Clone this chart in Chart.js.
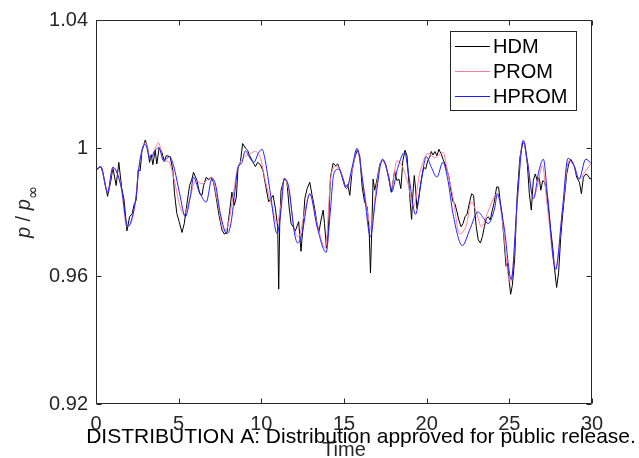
<!DOCTYPE html>
<html>
<head>
<meta charset="utf-8">
<script src="https://cdn.jsdelivr.net/npm/chart.js@4.4.1/dist/chart.umd.min.js"></script>
<style>
html,body{margin:0;padding:0;background:#fff;}
#wrap{width:639px;height:458px;position:relative;}
</style>
</head>
<body>
<div id="wrap"><canvas id="c" width="639" height="458"></canvas></div>
<script>
// ---------- data ----------
const hdmTime = [0.00,0.29,0.41,0.70,0.90,1.02,1.22,1.38,1.56,1.70,1.87,2.03,2.19,2.31,2.43,2.55,2.67,2.78,2.98,3.12,3.24,3.34,3.44,3.58,3.68,3.82,3.99,4.13,4.25,4.49,4.65,4.75,4.89,5.03,5.20,5.34,5.50,5.66,5.80,5.90,6.11,6.27,6.41,6.51,6.67,6.81,6.95,7.11,7.28,7.44,7.62,7.76,7.92,8.08,8.22,8.37,8.49,8.59,8.73,8.87,9.03,9.17,9.29,9.46,9.64,9.78,9.94,10.10,10.26,10.44,10.59,10.71,10.85,10.99,11.05,11.11,11.19,11.27,11.39,11.55,11.68,11.80,11.92,12.05,12.26,12.40,12.52,12.63,12.77,12.93,13.07,13.21,13.37,13.49,13.61,13.74,13.82,13.94,14.06,14.18,14.34,14.50,14.62,14.78,14.95,15.09,15.23,15.35,15.49,15.63,15.79,15.95,16.10,16.24,16.40,16.52,16.60,16.68,16.76,16.86,17.00,17.17,17.33,17.51,17.71,17.87,17.98,18.06,18.20,18.32,18.44,18.56,18.69,18.81,18.93,19.01,19.09,19.17,19.25,19.33,19.41,19.53,19.67,19.82,19.94,20.06,20.18,20.28,20.38,20.50,20.62,20.74,20.88,20.99,21.11,21.23,21.35,21.47,21.59,21.71,21.83,21.95,22.08,22.20,22.32,22.44,22.60,22.72,22.84,22.92,23.00,23.12,23.25,23.37,23.49,23.61,23.73,23.85,23.97,24.07,24.23,24.35,24.45,24.55,24.68,24.80,24.88,24.98,25.08,25.18,25.32,25.48,25.64,25.81,25.93,26.09,26.21,26.33,26.45,26.57,26.69,26.81,26.90,27.02,27.14,27.26,27.38,27.50,27.62,27.74,27.86,27.98,28.11,28.23,28.35,28.47,28.59,28.71,28.83,28.95,29.07,29.24,29.36,29.48,29.64,29.76,29.88,30.00];
const hdmValue = [0.9931,0.9942,0.9924,0.9849,0.9898,0.9938,0.9883,0.9955,0.9873,0.9837,0.9741,0.9785,0.9795,0.9824,0.9837,0.9931,0.9929,0.9991,1.0025,1.0001,0.9955,0.9979,0.9948,0.9993,0.9950,1.0001,0.9986,0.9958,0.9976,0.9973,0.9929,0.9857,0.9795,0.9770,0.9736,0.9764,0.9826,0.9883,0.9903,0.9924,0.9898,0.9857,0.9852,0.9883,0.9909,0.9900,0.9909,0.9893,0.9842,0.9790,0.9744,0.9731,0.9736,0.9801,0.9862,0.9821,0.9847,0.9940,0.9955,1.0014,1.0000,0.9993,0.9976,0.9960,0.9942,0.9955,0.9948,0.9929,0.9883,0.9832,0.9842,0.9852,0.9811,0.9754,0.9559,0.9754,0.9867,0.9883,0.9906,0.9893,0.9816,0.9764,0.9754,0.9740,0.9770,0.9677,0.9754,0.9842,0.9873,0.9893,0.9852,0.9816,0.9764,0.9739,0.9775,0.9806,0.9764,0.9687,0.9754,0.9909,0.9952,0.9945,0.9950,0.9929,0.9903,0.9878,0.9886,0.9852,0.9929,0.9965,0.9993,0.9976,0.9878,0.9832,0.9816,0.9744,0.9610,0.9744,0.9903,0.9868,0.9903,0.9950,0.9963,0.9950,0.9903,0.9862,0.9900,0.9929,0.9898,0.9903,0.9873,0.9960,0.9993,0.9976,0.9888,0.9826,0.9777,0.9857,0.9914,0.9873,0.9811,0.9847,0.9898,0.9940,0.9934,0.9960,0.9971,0.9989,0.9978,0.9989,0.9976,0.9996,0.9981,0.9965,0.9950,0.9931,0.9909,0.9867,0.9832,0.9826,0.9801,0.9775,0.9754,0.9764,0.9785,0.9793,0.9832,0.9857,0.9852,0.9795,0.9754,0.9713,0.9703,0.9723,0.9754,0.9780,0.9785,0.9775,0.9806,0.9826,0.9878,0.9878,0.9830,0.9795,0.9713,0.9631,0.9640,0.9589,0.9543,0.9570,0.9651,0.9857,0.9971,1.0017,1.0012,0.9950,0.9857,0.9806,0.9898,0.9919,0.9898,0.9908,0.9868,0.9898,0.9893,0.9857,0.9806,0.9744,0.9692,0.9620,0.9564,0.9610,0.9723,0.9795,0.9857,0.9919,0.9950,0.9965,0.9955,0.9940,0.9909,0.9893,0.9857,0.9909,0.9919,0.9914,0.9903,0.9908];

const promTime = [0.00,0.29,0.70,1.02,1.26,1.50,1.87,2.11,2.37,2.57,2.98,3.32,3.58,3.78,4.09,4.39,4.69,5.06,5.34,5.70,6.02,6.41,6.81,7.01,7.32,7.72,7.92,8.22,8.53,8.93,9.29,9.60,9.94,10.24,10.65,10.95,11.19,11.39,11.66,12.00,12.26,12.56,12.93,13.37,13.88,14.18,14.42,14.68,15.15,15.49,15.79,16.10,16.50,16.64,16.90,17.31,17.71,17.87,18.20,18.46,18.87,19.21,19.57,20.08,20.48,20.99,21.29,21.59,21.99,22.40,22.70,23.00,23.31,23.71,24.13,24.27,24.57,25.04,25.18,25.48,25.81,26.09,26.45,26.69,27.00,27.30,27.80,28.21,28.61,28.91,29.22,29.62,30.00];
const promValue = [0.9934,0.9942,0.9862,0.9938,0.9924,0.9883,0.9754,0.9764,0.9826,0.9929,1.0017,0.9965,0.9999,1.0017,0.9960,0.9958,0.9909,0.9821,0.9793,0.9847,0.9898,0.9888,0.9904,0.9909,0.9842,0.9744,0.9749,0.9826,0.9929,0.9970,0.9981,0.9989,0.9970,0.9898,0.9816,0.9764,0.9826,0.9904,0.9867,0.9745,0.9723,0.9785,0.9857,0.9764,0.9687,0.9898,0.9942,0.9940,0.9873,0.9929,0.9996,0.9909,0.9775,0.9744,0.9857,0.9963,0.9909,0.9875,0.9960,0.9950,0.9888,0.9816,0.9919,0.9983,0.9970,0.9986,0.9919,0.9847,0.9732,0.9759,0.9832,0.9801,0.9754,0.9801,0.9852,0.9857,0.9775,0.9579,0.9610,0.9826,1.0022,0.9960,0.9842,0.9878,0.9945,0.9816,0.9626,0.9806,0.9960,0.9945,0.9903,0.9929,0.9955];

const hpromTime = [0.00,0.29,0.70,1.02,1.26,1.56,1.91,2.17,2.47,2.57,2.98,3.28,3.54,3.80,4.09,4.45,4.69,5.06,5.40,5.70,5.90,6.21,6.67,7.01,7.22,7.52,7.92,8.16,8.43,8.57,8.83,9.03,9.29,9.54,9.84,10.04,10.24,10.55,10.95,11.19,11.39,11.66,12.00,12.20,12.46,12.93,13.37,13.92,14.18,14.38,14.68,15.15,15.49,15.79,16.20,16.60,16.90,17.33,17.71,17.87,18.26,18.67,18.93,19.33,19.67,19.98,20.28,20.62,20.98,21.29,21.59,22.16,22.60,23.10,23.45,23.71,24.13,24.27,24.68,25.12,25.48,25.85,26.09,26.45,26.79,27.06,27.30,27.80,28.21,28.55,28.91,29.22,29.62,30.00];
const hpromValue = [0.9931,0.9942,0.9862,0.9940,0.9924,0.9868,0.9754,0.9780,0.9868,0.9929,1.0012,0.9965,0.9990,1.0001,0.9960,0.9973,0.9945,0.9857,0.9785,0.9847,0.9909,0.9868,0.9831,0.9904,0.9888,0.9795,0.9732,0.9764,0.9878,0.9934,0.9955,0.9991,0.9970,0.9955,0.9986,0.9996,0.9960,0.9857,0.9733,0.9806,0.9904,0.9877,0.9735,0.9703,0.9733,0.9857,0.9754,0.9674,0.9806,0.9919,0.9934,0.9873,0.9940,0.9999,0.9868,0.9723,0.9837,0.9965,0.9909,0.9862,0.9940,0.9986,0.9909,0.9793,0.9898,0.9973,0.9940,0.9909,0.9955,0.9898,0.9795,0.9695,0.9744,0.9800,0.9780,0.9764,0.9816,0.9857,0.9754,0.9589,0.9837,1.0024,0.9960,0.9842,0.9929,0.9965,0.9857,0.9620,0.9806,0.9968,0.9945,0.9903,0.9965,0.9950];

const seriesNames = ['HDM','PROM','HPROM'];
const xTickValues = [0,5,10,15,20,25,30];
const yTickLabels = ['0.92','0.96','1','1.04'];
const xAxisTitle = 'Time';
const noticeText = 'DISTRIBUTION A: Distribution approved for public release.';

// ---------- styles ----------
const FONT = '"Liberation Sans", Arial, Helvetica, sans-serif';
const AXIS_COLOR = '#262626';
const colors = ['#000000', '#ff7d9b', '#1e1eff'];

function pts(t, v) { return t.map((x, i) => ({ x: x, y: v[i] })); }

const frameAndExtras = {
  id: 'frameAndExtras',
  afterDraw(chart) {
    const ctx = chart.ctx;
    const a = chart.chartArea;
    const xs = chart.scales.x, ys = chart.scales.y;
    ctx.save();
    // box
    ctx.strokeStyle = AXIS_COLOR;
    ctx.lineWidth = 1;
    const L = Math.round(a.left) + 0.5, R = Math.round(a.right) - 0.5;
    const T = Math.round(a.top) + 0.5, B = Math.round(a.bottom) - 0.5;
    ctx.beginPath();
    ctx.rect(L, T, R - L, B - T);
    ctx.stroke();
    // inward ticks
    const tl = 5;
    ctx.beginPath();
    xs.ticks.forEach(tk => {
      const px = Math.round(xs.getPixelForValue(tk.value)) + 0.5;
      ctx.moveTo(px, B); ctx.lineTo(px, B - tl);
      ctx.moveTo(px, T); ctx.lineTo(px, T + tl);
    });
    ys.ticks.forEach(tk => {
      const py = Math.round(ys.getPixelForValue(tk.value)) + 0.5;
      ctx.moveTo(L, py); ctx.lineTo(L + tl, py);
      ctx.moveTo(R, py); ctx.lineTo(R - tl, py);
    });
    ctx.stroke();

    // legend
    const lx = 450.5, ly = 31.5, lw = 126, lh = 79;
    ctx.fillStyle = '#ffffff';
    ctx.fillRect(lx, ly, lw, lh);
    ctx.strokeStyle = AXIS_COLOR;
    ctx.lineWidth = 1;
    ctx.strokeRect(lx, ly, lw, lh);
    ctx.font = '20px ' + FONT;
    ctx.textBaseline = 'middle';
    ctx.textAlign = 'left';
    seriesNames.forEach((name, i) => {
      const cy = 46.5 + i * 25;
      ctx.strokeStyle = colors[i];
      ctx.lineWidth = 1;
      ctx.beginPath();
      ctx.moveTo(455, cy);
      ctx.lineTo(490, cy);
      ctx.stroke();
      ctx.fillStyle = '#000';
      ctx.fillText(name, 493, cy + 1);
    });

    // y-axis title: p / p_inf
    ctx.save();
    ctx.translate(30, 212);
    ctx.rotate(-Math.PI / 2);
    ctx.fillStyle = AXIS_COLOR;
    ctx.textBaseline = 'alphabetic';
    ctx.textAlign = 'left';
    const fI = 'italic 20px ' + FONT, fN = '20px ' + FONT, fS = '16px "DejaVu Sans", sans-serif';
    ctx.font = fI; const w1 = ctx.measureText('p').width;
    ctx.font = fN; const w2 = ctx.measureText(' / ').width;
    ctx.font = fS; const w4 = ctx.measureText('\u221E').width;
    const total = w1 * 2 + w2 + w4;
    let x0 = -total / 2;
    ctx.font = fI; ctx.fillText('p', x0, 0); x0 += w1;
    ctx.font = fN; ctx.fillText(' / ', x0, 0); x0 += w2;
    ctx.font = fI; ctx.fillText('p', x0, 0); x0 += w1;
    ctx.font = fS; ctx.fillText('\u221E', x0, 8);
    ctx.restore();

    // distribution notice
    ctx.font = '21px ' + FONT;
    ctx.fillStyle = '#000';
    ctx.textAlign = 'center';
    ctx.textBaseline = 'middle';
    ctx.fillText(noticeText, 361, 437);
    ctx.restore();
  }
};

const chart = new Chart(document.getElementById('c'), {
  type: 'line',
  data: {
    datasets: [
      { label: seriesNames[0], data: pts(hdmTime, hdmValue), borderColor: colors[0], borderWidth: 1, pointRadius: 0, tension: 0, order: 2 },
      { label: seriesNames[1], data: pts(promTime, promValue), borderColor: colors[1], borderWidth: 1, pointRadius: 0, cubicInterpolationMode: 'monotone', order: 1 },
      { label: seriesNames[2], data: pts(hpromTime, hpromValue), borderColor: colors[2], borderWidth: 1, pointRadius: 0, cubicInterpolationMode: 'monotone', order: 0 }
    ]
  },
  options: {
    responsive: false,
    animation: false,
    devicePixelRatio: 1,
    layout: { padding: { top: 16, right: 47, left: 0, bottom: 0 } },
    plugins: { legend: { display: false }, tooltip: { enabled: false } },
    scales: {
      x: {
        type: 'linear', min: 0, max: 30,
        afterBuildTicks: s => { s.ticks = xTickValues.map(v => ({ value: v })); },
        afterFit: s => { s.height = 54; },
        grid: { display: false, drawTicks: false },
        border: { display: false },
        ticks: { color: AXIS_COLOR, font: { family: FONT, size: 20 }, padding: 8, maxRotation: 0, autoSkip: false,
                 callback: v => String(v) },
        title: { display: true, text: xAxisTitle, color: AXIS_COLOR, font: { family: FONT, size: 20 }, padding: { top: 0, bottom: -4 } }
      },
      y: {
        type: 'linear', min: 0.92, max: 1.04,
        afterBuildTicks: s => { s.ticks = yTickLabels.map(v => ({ value: parseFloat(v) })); },
        afterFit: s => { s.width = 96; },
        grid: { display: false, drawTicks: false },
        border: { display: false },
        ticks: { color: AXIS_COLOR, font: { family: FONT, size: 20 }, padding: 8, autoSkip: false,
                 callback: (v, i) => yTickLabels[i] }
      }
    }
  },
  plugins: [frameAndExtras]
});
</script>
</body>
</html>
